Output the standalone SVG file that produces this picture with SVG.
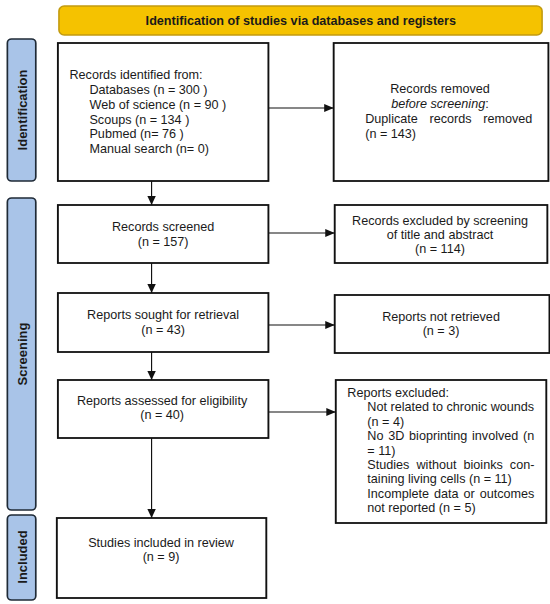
<svg xmlns="http://www.w3.org/2000/svg" width="550" height="604" viewBox="0 0 550 604">
<style>
text{font-family:"Liberation Sans",Arial,sans-serif;font-size:12px;fill:#1a1a1a}
.c{text-anchor:middle}
.box{fill:#fff;stroke:#111;stroke-width:1.8}
.side{fill:#a9c4e8;stroke:#1f2a36;stroke-width:1.6}
.sl{font-weight:bold;font-size:13px;text-anchor:middle}
.con{stroke:#111;stroke-width:1.1;fill:none}
</style>
<defs>
<marker id="ah" markerWidth="9" markerHeight="8" refX="9" refY="4" orient="auto" markerUnits="userSpaceOnUse">
<path d="M0,0 L9,4 L0,8 Z" fill="#111"/>
</marker>
</defs>
<rect width="550" height="604" fill="#fff"/>
<g transform="scale(1.0526,1)">
<g id="header">
<rect x="56" y="6" width="459" height="29" rx="5" fill="#f5c200" stroke="#c29b10" stroke-width="1.5"/>
<text x="285.8" y="25" class="c" style="font-weight:bold">Identification of studies via databases and registers</text>
</g>
<g id="side-identification">
<rect x="7" y="39" width="27" height="142" rx="4" class="side"/>
<text class="sl" transform="translate(25.5,110) rotate(-90)">Identification</text>
</g>
<g id="side-screening">
<rect x="7" y="198" width="27" height="312" rx="4" class="side"/>
<text class="sl" transform="translate(25.5,354) rotate(-90)">Screening</text>
</g>
<g id="side-included">
<rect x="7" y="515" width="27" height="85" rx="4" class="side"/>
<text class="sl" transform="translate(25.5,557) rotate(-90)">Included</text>
</g>
<g id="records-identified">
<rect x="55" y="43" width="200" height="138" class="box"/>
<text x="66" y="79.5">Records identified from:</text>
<text x="85" y="94.2">Databases (n = 300 )</text>
<text x="85" y="108.9">Web of science (n = 90 )</text>
<text x="85" y="123.6">Scoups (n = 134 )</text>
<text x="85" y="138.3">Pubmed (n= 76 )</text>
<text x="85" y="153">Manual search (n= 0)</text>
</g>
<g id="records-removed">
<rect x="317" y="43" width="204" height="138" class="box"/>
<text x="418" y="93" class="c">Records removed</text>
<text x="418" y="108" class="c" font-style="italic">before screening<tspan font-style="normal">:</tspan></text>
<text x="347" y="123" word-spacing="7.8">Duplicate records removed</text>
<text x="347" y="138">(n = 143)</text>
</g>
<g id="records-screened">
<rect x="55" y="205" width="200" height="58" class="box"/>
<text x="155" y="231.5" class="c">Records screened</text>
<text x="155" y="246.5" class="c">(n = 157)</text>
</g>
<g id="records-excluded">
<rect x="318" y="205" width="202" height="58" class="box"/>
<text x="418" y="225" class="c">Records excluded by screening</text>
<text x="418" y="239" class="c">of title and abstract</text>
<text x="418" y="253" class="c">(n = 114)</text>
</g>
<g id="reports-sought">
<rect x="55" y="293" width="200" height="59" class="box"/>
<text x="155" y="319.5" class="c">Reports sought for retrieval</text>
<text x="155" y="334" class="c">(n = 43)</text>
</g>
<g id="reports-not-retrieved">
<rect x="318" y="295" width="204" height="58" class="box"/>
<text x="419" y="321" class="c">Reports not retrieved</text>
<text x="419" y="335" class="c">(n = 3)</text>
</g>
<g id="reports-assessed">
<rect x="55" y="380" width="200" height="58" class="box"/>
<text x="154" y="405" class="c">Reports assessed for eligibility</text>
<text x="154" y="419.5" class="c">(n = 40)</text>
</g>
<g id="reports-excluded">
<rect x="319" y="380" width="200" height="143" class="box"/>
<text x="330" y="397">Reports excluded:</text>
<text x="349" y="411.4">Not related to chronic wounds</text>
<text x="349" y="425.8">(n = 4)</text>
<text x="349" y="440.2" word-spacing="1.2">No 3D bioprinting involved (n</text>
<text x="349" y="454.6">= 11)</text>
<text x="349" y="469" word-spacing="3.4">Studies without bioinks con-</text>
<text x="349" y="483.4">taining living cells (n = 11)</text>
<text x="349" y="497.8" word-spacing="1.4">Incomplete data or outcomes</text>
<text x="349" y="512.2">not reported (n = 5)</text>
</g>
<g id="studies-included">
<rect x="54" y="518" width="199" height="80" class="box"/>
<text x="153" y="547" class="c">Studies included in review</text>
<text x="153" y="561.5" class="c">(n = 9)</text>
</g>
<g id="connectors">
<line x1="255" y1="108" x2="317" y2="108" class="con" marker-end="url(#ah)"/>
<line x1="144" y1="181" x2="144" y2="205" class="con" marker-end="url(#ah)"/>
<line x1="255" y1="233" x2="318" y2="233" class="con" marker-end="url(#ah)"/>
<line x1="144" y1="263" x2="144" y2="293" class="con" marker-end="url(#ah)"/>
<line x1="255" y1="325" x2="318" y2="325" class="con" marker-end="url(#ah)"/>
<line x1="144" y1="352" x2="144" y2="380" class="con" marker-end="url(#ah)"/>
<line x1="255" y1="412" x2="319" y2="412" class="con" marker-end="url(#ah)"/>
<line x1="144" y1="438" x2="144" y2="518" class="con" marker-end="url(#ah)"/>
</g>
</g>
</svg>
